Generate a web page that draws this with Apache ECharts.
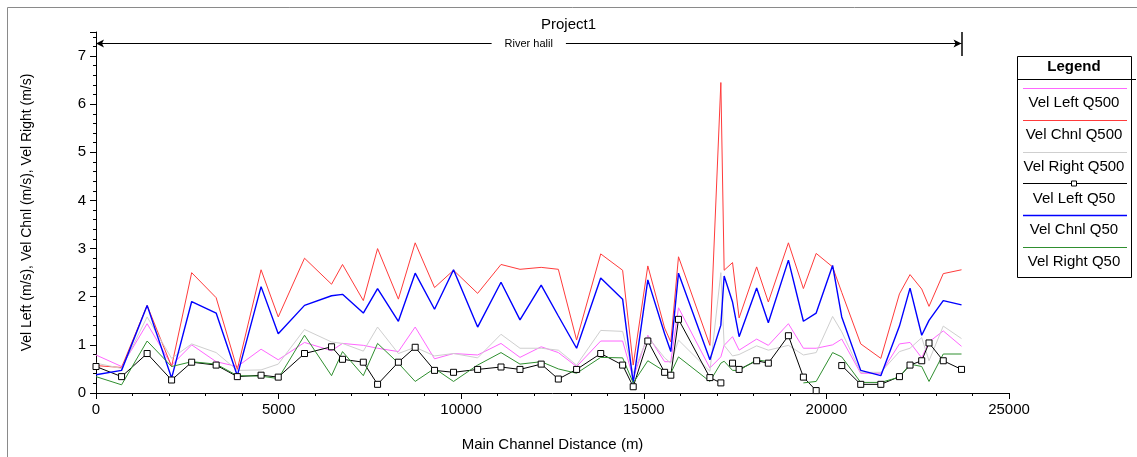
<!DOCTYPE html>
<html>
<head>
<meta charset="utf-8">
<title>Project1</title>
<script src="https://cdn.jsdelivr.net/npm/echarts@6/dist/echarts.min.js"></script>
<style>
	html,body{margin:0;padding:0;background:#fff;}
	#chart{width:1137px;height:457px;}
</style>
</head>
<body>
<div id="chart"></div>
<script>
var stations=[0,700,1400,2070,2620,3290,3870,4520,4990,5710,6450,6750,7320,7710,8280,8740,9270,9790,10450,11090,
	11610,12190,12660,13160,13820,14420,14710,15110,15570,15740,15950,16810,17110,17200,17430,17610,18090,18410,18960,19370,
	19720,20170,20420,20940,21490,22000,22290,22610,22810,23200,23700];
var velLeftQ500=[0.79,0.55,1.44,0.58,1.00,0.65,0.55,0.91,0.69,1.05,0.88,1.03,0.99,0.93,0.86,1.37,0.71,0.82,0.79,1.03,
	0.74,0.96,0.84,0.55,1.08,1.08,0.31,1.20,0.65,0.65,1.77,0.52,0.75,0.99,1.17,0.89,1.12,0.99,1.44,0.93,
	0.93,1.00,1.12,0.41,0.41,1.02,1.05,0.73,1.06,1.29,0.97];
var velChnlQ500=[0.57,0.53,1.82,0.55,2.50,1.98,0.49,2.56,1.58,2.80,2.26,2.67,1.92,3.00,1.95,3.12,2.19,2.55,2.07,2.67,
	2.57,2.61,2.57,1.10,2.89,2.55,0.58,2.64,1.35,1.06,2.83,0.99,6.45,2.55,2.71,1.56,2.62,1.89,3.12,2.17,
	2.90,2.62,2.09,1.02,0.72,2.06,2.46,2.16,1.80,2.48,2.56];
var velRightQ500=[0.62,0.51,1.58,0.72,1.02,0.84,0.47,0.48,0.60,1.32,1.06,1.03,0.87,1.37,0.82,0.95,0.77,0.82,0.73,1.22,
	0.93,0.93,0.89,0.58,1.30,1.28,0.41,1.17,0.73,0.62,1.10,0.45,2.50,0.99,0.77,0.80,0.98,0.89,0.99,0.79,
	0.84,1.59,1.27,0.43,0.43,0.86,0.93,1.15,0.67,1.39,1.13];
var velLeftQ50=[0.55,0.34,0.82,0.27,0.64,0.58,0.34,0.37,0.33,0.82,0.96,0.70,0.64,0.18,0.64,0.95,0.47,0.43,0.49,0.54,
	0.49,0.60,0.29,0.49,0.82,0.58,0.13,1.08,0.43,0.37,1.53,0.32,0.21,null,0.62,0.49,0.67,0.62,1.19,0.33,
	0.05,null,0.57,0.18,0.18,0.34,0.58,0.67,1.04,0.67,0.49];
var velChnlQ50=[0.38,0.47,1.82,0.31,1.90,1.66,0.36,2.21,1.23,1.82,2.02,2.05,1.66,2.17,1.49,2.49,1.74,2.56,1.37,2.30,
	1.52,2.24,1.60,0.93,2.39,1.95,0.21,2.35,1.23,0.86,2.49,0.69,1.41,2.43,1.89,1.17,2.18,1.46,2.76,1.49,
	1.66,2.65,1.58,0.47,0.36,1.39,2.18,1.20,1.51,1.92,1.83];
var velRightQ50=[0.34,0.17,1.08,0.55,0.65,0.60,0.36,0.35,0.30,1.20,0.36,0.86,0.36,1.03,0.62,0.24,0.51,0.24,0.58,0.84,
	0.60,0.65,0.50,0.41,0.74,0.73,0.21,0.67,0.45,0.41,0.75,0.24,0.62,0.66,0.47,0.47,0.69,0.65,null,0.21,
	0.24,0.84,0.75,0.22,0.22,0.33,0.60,0.55,0.24,0.81,0.81];

var seriesNames=['Vel Left Q500','Vel Chnl Q500','Vel Right Q500','Vel Left Q50','Vel Chnl Q50','Vel Right Q50'];
var seriesValues=[velLeftQ500,velChnlQ500,velRightQ500,velLeftQ50,velChnlQ50,velRightQ50];
var seriesColors=['#ff66ff','#ff3b3b','#cfcfcf','#000000','#0000ff','#2f8f2f'];

var xAxisMax=25000, xAxisStep=5000;
var yAxisMax=7.5, yAxisStep=1;
var reachName='River halil', reachStart=0, reachEnd=23700, reachLevel=7.26;

function initProfile(options){
	var opts={
		element:null,
		title:'Project1',
		xName:'Main Channel Distance (m)',
		yName:'Vel Left (m/s), Vel Chnl (m/s), Vel Right (m/s)'
	};
	$extend(opts,options);

	var _profile={
		_init:function(opts){
			$extend(this,opts);
			this.render();
		},
		render:function(){
			this.renderChart();
		},
		buildSeries:function(){
			var list=[];
			seriesNames.forEach(function(name,i){
				var data=stations.map(function(s,j){
					var v=seriesValues[i][j];
					return [s, v===null?'-':v];
				});
				var s={
					name:name,
					type:'line',
					data:data,
					connectNulls:false,
					lineStyle:{color:seriesColors[i],width:i===4?1.4:1},
					itemStyle:{color:seriesColors[i]},
					symbol:'none',
					emphasis:{disabled:true},
					silent:true
				};
				if(i===3){
					s.symbol='rect';
					s.symbolSize=6;
					s.showAllSymbol=true;
					s.itemStyle={color:'#fff',borderColor:'#000',borderWidth:1};
				}
				list.push(s);
			});
			//reach marker
			list[0].markLine={
				silent:true,
				animation:false,
				symbol:['arrow','arrow'],
				symbolSize:[6,8],
				lineStyle:{color:'#000',width:1,type:'solid'},
				label:{show:true,position:'middle',distance:0,verticalAlign:'middle',formatter:reachName,color:'#000',
					fontSize:11,fontFamily:'Liberation Sans',backgroundColor:'#fff',padding:[2,13]},
				data:[[{coord:[reachStart,reachLevel]},{coord:[reachEnd,reachLevel]}]]
			};
			list[1].markLine={
				silent:true,
				animation:false,
				symbol:['none','none'],
				lineStyle:{color:'#000',width:1.5,type:'solid'},
				label:{show:false},
				data:[[{coord:[reachEnd,7.0]},{coord:[reachEnd,7.5]}]]
			};
			return list;
		},
		buildLegend:function(){
			var g=[];
			var left=1017, right=1131, top=56, bottom=277, cx=(left+right)/2;
			g.push({type:'line',shape:{x1:7.5,y1:7.5,x2:1137,y2:7.5},style:{stroke:'#8a8a8a',lineWidth:1}});
			g.push({type:'line',shape:{x1:7.5,y1:7.5,x2:7.5,y2:457},style:{stroke:'#8a8a8a',lineWidth:1}});
			g.push({type:'rect',shape:{x:left+0.5,y:top+0.5,width:right-left,height:bottom-top},
				style:{fill:'#fff',stroke:'#000',lineWidth:1}});
			g.push({type:'text',x:cx,y:67,style:{text:'Legend',fontSize:15,fontWeight:'bold',
				fontFamily:'Liberation Sans',fill:'#000',align:'center',verticalAlign:'middle'}});
			g.push({type:'line',shape:{x1:left,y1:79.5,x2:1136,y2:79.5},style:{stroke:'#000',lineWidth:1}});
			seriesNames.forEach(function(name,i){
				var ly=Math.round(88+i*31.8)+0.5, ty=103+i*31.8;
				g.push({type:'line',shape:{x1:left+6,y1:ly,x2:right-4,y2:ly},
					style:{stroke:seriesColors[i],lineWidth:i===4?1.6:1}});
				if(i===3){
					g.push({type:'rect',shape:{x:cx-2.5,y:ly-2.5,width:5,height:5},
						style:{fill:'#fff',stroke:'#000',lineWidth:1}});
				}
				g.push({type:'text',x:cx,y:ty,style:{text:name,fontSize:15,fontFamily:'Liberation Sans',
					fill:'#000',align:'center',verticalAlign:'middle'}});
			});
			return g;
		},
		renderChart:function(){
			var that=this;
			var axisFont={color:'#000',fontSize:15,fontFamily:'Liberation Sans'};
			var option={
				animation:false,
				backgroundColor:'#fff',
				title:{
					text:that.title,
					left:'center',
					top:12,
					textStyle:{color:'#000',fontSize:15,fontWeight:'normal',fontFamily:'Liberation Sans'}
				},
				grid:{left:96,right:128,top:32,bottom:60,containLabel:false},
				xAxis:{
					type:'value',
					min:0,
					max:xAxisMax,
					interval:xAxisStep,
					name:that.xName,
					nameLocation:'middle',
					nameGap:44,
					nameTextStyle:{color:'#000',fontSize:15,fontFamily:'Liberation Sans'},
					axisLine:{lineStyle:{color:'#000',width:1}},
					axisTick:{show:true,length:6,lineStyle:{color:'#000'}},
					minorTick:{show:true,splitNumber:5,length:3,lineStyle:{color:'#000'}},
					splitLine:{show:false},
					axisLabel:$extend({margin:9,formatter:function(v){ return String(v); }},axisFont)
				},
				yAxis:{
					type:'value',
					min:0,
					max:yAxisMax,
					interval:yAxisStep,
					name:that.yName,
					nameLocation:'middle',
					nameGap:62,
					nameTextStyle:{color:'#000',fontSize:14,fontFamily:'Liberation Sans'},
					axisLine:{show:true,lineStyle:{color:'#000',width:1}},
					axisTick:{show:true,length:6,lineStyle:{color:'#000'}},
					minorTick:{show:true,splitNumber:5,length:3,lineStyle:{color:'#000'}},
					splitLine:{show:false},
					axisLabel:$extend({margin:10,showMaxLabel:false},axisFont)
				},
				graphic:that.buildLegend(),
				series:that.buildSeries()
			};
			var myChart=echarts.init(document.getElementById(that.element));
			myChart.setOption(option);
			return myChart;
		}
	};
	_profile._init(opts);
	return _profile;
}

function $extend(a,b){
	for(var k in b){ a[k]=b[k]; }
	return a;
}

initProfile({element:'chart'});
</script>
</body>
</html>
